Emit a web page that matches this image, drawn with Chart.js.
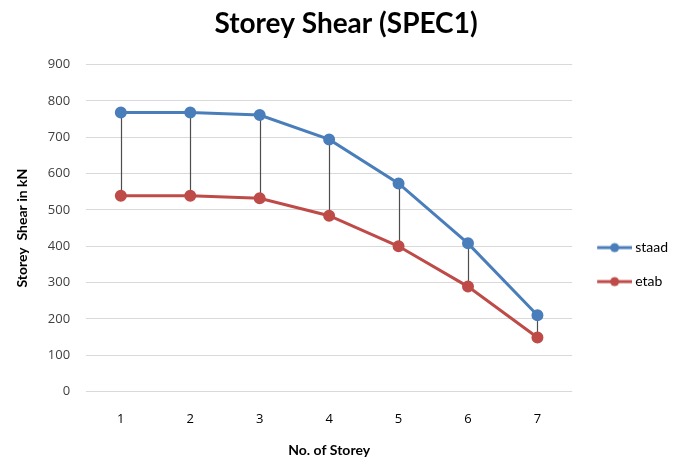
<!DOCTYPE html>
<html>
<head>
<meta charset="utf-8">
<script src="https://cdn.jsdelivr.net/npm/chart.js@4"></script>
<style>
  html, body { margin: 0; padding: 0; background: #fff; }
  #wrap { width: 681px; height: 459px; }
</style>
</head>
<body>
<div id="wrap"><canvas id="shearChart" width="681" height="459"></canvas></div>
<script>
// ----- Chart data -----
const storeys = ['1', '2', '3', '4', '5', '6', '7'];
const staad = [768, 768, 761, 694, 573, 408, 210];
const etab = [539, 539, 532, 484, 400, 289, 149];

const staadColor = '#4a7ebb';
const etabColor = '#be4b48';

// legend marker: line with a dot in the middle
function legendMarker(color) {
  const c = document.createElement('canvas');
  c.width = 44;
  c.height = 12;
  const g = c.getContext('2d');
  g.strokeStyle = color;
  g.lineWidth = 3;
  g.beginPath();
  g.moveTo(9, 6);
  g.lineTo(44, 6);
  g.stroke();
  g.fillStyle = color;
  g.beginPath();
  g.arc(26.5, 6, 4.5, 0, Math.PI * 2);
  g.fill();
  return c;
}

// vertical high-low lines between the two series
const highLowLines = {
  id: 'highLowLines',
  beforeDatasetsDraw(chart) {
    const { ctx, scales } = chart;
    const x = scales.x;
    const y = scales.y;
    ctx.save();
    ctx.strokeStyle = '#4d4d4d';
    ctx.lineWidth = 1.2;
    for (let i = 0; i < storeys.length; i++) {
      const px = Math.round(x.getPixelForValue(i)) + 0.5;
      ctx.beginPath();
      ctx.moveTo(px, y.getPixelForValue(staad[i]));
      ctx.lineTo(px, y.getPixelForValue(etab[i]));
      ctx.stroke();
    }
    ctx.restore();
  }
};

const font = 'Lato, "Open Sans", sans-serif';
const tickFont = '"Open Sans", Lato, sans-serif';

new Chart(document.getElementById('shearChart'), {
  type: 'line',
  data: {
    labels: storeys,
    datasets: [
      {
        label: 'staad',
        data: staad,
        borderColor: staadColor,
        backgroundColor: staadColor,
        borderWidth: 3,
        pointRadius: 4.5,
        pointHoverRadius: 4.5,
        tension: 0
      },
      {
        label: 'etab',
        data: etab,
        borderColor: etabColor,
        backgroundColor: etabColor,
        borderWidth: 3,
        pointRadius: 4.5,
        pointHoverRadius: 4.5,
        tension: 0
      }
    ]
  },
  options: {
    responsive: false,
    animation: false,
    layout: { padding: { left: 14, right: 3, top: 7, bottom: 0 } },
    plugins: {
      title: {
        display: true,
        text: 'Storey Shear (SPEC1)',
        color: '#000',
        font: { family: font, size: 28, weight: 'bold' },
        padding: { top: 0, bottom: 24 }
      },
      legend: {
        position: 'right',
        title: { display: true, text: ' ', padding: { top: 0, bottom: 62 }, font: { size: 1 } },
        labels: {
          usePointStyle: true,
          pointStyleWidth: 36,
          padding: 20,
          color: '#000',
          font: { family: font, size: 14 },
          generateLabels(chart) {
            return chart.data.datasets.map((ds, i) => ({
              text: ds.label,
              pointStyle: legendMarker(ds.borderColor),
              fillStyle: ds.borderColor,
              strokeStyle: ds.borderColor,
              lineWidth: 0,
              hidden: false,
              datasetIndex: i,
              fontColor: '#000'
            }));
          }
        }
      },
      tooltip: { enabled: false }
    },
    scales: {
      x: {
        offset: true,
        grid: { display: false, drawTicks: false },
        border: { display: false },
        ticks: { color: '#000', padding: 20, font: { family: tickFont, size: 13 } },
        title: {
          display: true,
          text: 'No. of Storey',
          color: '#000',
          font: { family: font, size: 14, weight: 'bold' },
          padding: { top: -5, bottom: 0 }
        }
      },
      y: {
        min: 0,
        max: 900,
        ticks: { stepSize: 100, color: '#404040', padding: 16, font: { family: tickFont, size: 13 } },
        grid: { color: '#d9d9d9', drawTicks: false },
        border: { display: false },
        title: {
          display: true,
          text: 'Storey  Shear in kN',
          color: '#000',
          font: { family: font, size: 14, weight: 'bold' },
          padding: { top: 0, bottom: 1 }
        }
      }
    }
  },
  plugins: [highLowLines]
});
</script>
</body>
</html>
